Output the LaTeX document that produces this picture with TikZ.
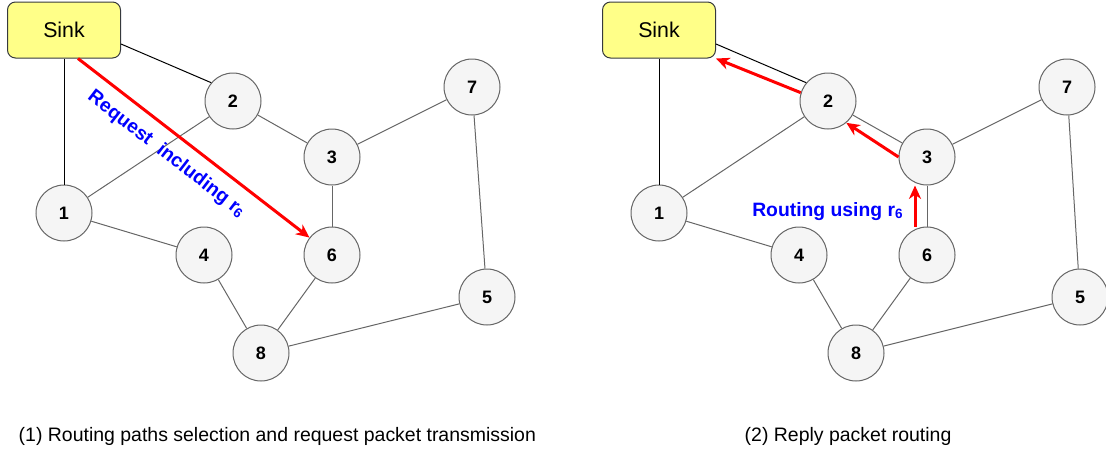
\documentclass[tikz,border=0pt]{standalone}
\usepackage{fontspec}
\setmainfont{Liberation Sans}
\usepackage{tikz}
\usetikzlibrary{arrows.meta, positioning}
\usepackage{xcolor}

\definecolor{nodefill}{HTML}{F5F5F5}
\definecolor{nodeline}{HTML}{666666}
\definecolor{sinkfill}{HTML}{FFFF88}
\definecolor{sinkline}{HTML}{36393D}

\tikzset{
    sensor/.style={circle, draw=nodeline, fill=nodefill, line width=0.75pt,
        minimum size=42pt, inner sep=0pt, font=\bfseries\fontsize{13.5}{15}\selectfont},
    sinkbox/.style={rectangle, rounded corners=6pt, draw=sinkline, fill=sinkfill,
        line width=0.75pt, minimum width=84.75pt, minimum height=42pt,
        font=\fontsize{16}{18}\selectfont},
    link/.style={draw=nodeline, line width=0.75pt},
    sinklink/.style={draw=black, line width=0.75pt},
    route/.style={draw=red, line width=2.25pt,
        -{Stealth[length=10pt, width=9pt, inset=3pt]}},
    routelabel/.style={text=blue, font=\bfseries\fontsize{14.5}{17}\selectfont},
    caption/.style={font=\fontsize{14.6}{17}\selectfont}
}

\begin{document}
\begin{tikzpicture}[x=0.75pt, y=-0.75pt]

    \useasboundingbox (0,0) rectangle (1106,451);

    % Panel (1): nodes
    \node[sinkbox] (sinkA) at (64,30) {Sink};
    \node[sensor] (a1) at (64,213) {1};
    \node[sensor] (a2) at (233,101) {2};
    \node[sensor] (a3) at (332,157) {3};
    \node[sensor] (a4) at (204,255) {4};
    \node[sensor] (a5) at (487,297) {5};
    \node[sensor] (a6) at (332,255) {6};
    \node[sensor] (a7) at (472,87) {7};
    \node[sensor] (a8) at (261,353) {8};

    % Panel (1): links
    \draw[sinklink] (sinkA.south) -- (a1);
    \draw[sinklink] ([yshift=-14pt*0.75]sinkA.east) -- (a2.140);
    \draw[link] (a2) -- (a1);
    \draw[link] (a2) -- (a3);
    \draw[link] (a3) -- (a7);
    \draw[link] (a3) -- (a6);
    \draw[link] (a1) -- (a4);
    \draw[link] (a4) -- (a8);
    \draw[link] (a6) -- (a8);
    \draw[link] (a8) -- (a5);
    \draw[link] (a7) -- (a5);

    % Panel (1): request towards node 6
    \draw[route] ([xshift=10.5pt]sinkA.south) -- (a6)
        node[routelabel, pos=0.44, sloped, below=5pt] {Request \ including r\textsubscript{6}};

    % Panel (2): nodes
    \node[sinkbox] (sinkB) at (659,30) {Sink};
    \node[sensor] (b1) at (659,213) {1};
    \node[sensor] (b2) at (828,101) {2};
    \node[sensor] (b3) at (927,157) {3};
    \node[sensor] (b4) at (799,255) {4};
    \node[sensor] (b5) at (1080,297) {5};
    \node[sensor] (b6) at (927,255) {6};
    \node[sensor] (b7) at (1067,87) {7};
    \node[sensor] (b8) at (856,353) {8};

    % Panel (2): links
    \draw[sinklink] (sinkB.south) -- (b1);
    \draw[sinklink] ([yshift=-14pt*0.75]sinkB.east) -- (b2.140);
    \draw[link] (b2) -- (b1);
    \draw[link] (b2) -- (b3);
    \draw[link] (b3) -- (b7);
    \draw[link] (b3) -- (b6);
    \draw[link] (b1) -- (b4);
    \draw[link] (b4) -- (b8);
    \draw[link] (b6) -- (b8);
    \draw[link] (b8) -- (b5);
    \draw[link] (b7) -- (b5);

    % Panel (2): reply routed back to the sink
    \draw[route] ([xshift=-9pt]b6.north) -- ([xshift=-9pt]b3.south);
    \draw[route] (b3.west) -- (b2.-50);
    \draw[route] (b2.163) -- (sinkB.south east);
    \node[routelabel, anchor=base east] (usingr) at (908,216) {Routing using r\textsubscript{6}};

    % Captions
    \node[caption, anchor=west] (capA) at (14,436) {(1) Routing paths selection and request packet transmission};
    \node[caption, anchor=west] (capB) at (740,436) {(2) Reply packet routing};

\end{tikzpicture}
\end{document}
